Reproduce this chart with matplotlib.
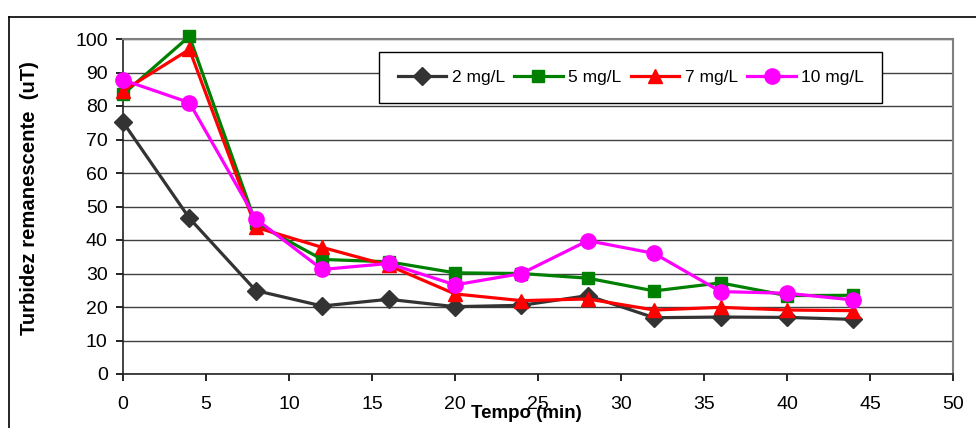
"""Turbidez remanescente vs tempo para diferentes dosagens."""

import matplotlib
matplotlib.use("Agg")
import matplotlib.pyplot as plt
from matplotlib.lines import Line2D

plt.rcParams["font.family"] = ["Liberation Sans", "DejaVu Sans"]

tempo = [0, 4, 8, 12, 16, 20, 24, 28, 32, 36, 40, 44]

dose_2 = [75.2, 46.5, 24.9, 20.3, 22.3, 20.1, 20.5, 23.4, 16.8, 17.0, 16.9, 16.3]
dose_5 = [83.5, 100.8, 45.0, 34.2, 33.5, 30.2, 30.0, 28.6, 24.8, 27.2, 23.4, 23.5]
dose_7 = [84.5, 96.9, 43.8, 37.8, 32.4, 23.9, 21.9, 22.4, 19.1, 19.9, 19.1, 18.9]
dose_10 = [87.8, 81.0, 46.3, 31.2, 33.0, 26.6, 30.0, 39.8, 36.0, 24.6, 24.1, 22.1]

series = [
    ("2 mg/L", dose_2, "#333333", "D", 9),
    ("5 mg/L", dose_5, "#008000", "s", 9),
    ("7 mg/L", dose_7, "#ff0000", "^", 10),
    ("10 mg/L", dose_10, "#ff00ff", "o", 11),
]


def main():
    fig = plt.figure(figsize=(9.76, 4.28), dpi=100)
    ax = fig.add_axes([123 / 976, 1 - 374 / 428, (953 - 123) / 976, (374 - 39) / 428])

    # moldura externa (estilo Excel)
    fig.add_artist(Line2D([9 / 976, 9 / 976], [0, 1 - 17 / 428], color="black", lw=1.2))
    fig.add_artist(Line2D([9 / 976, 1], [1 - 17 / 428, 1 - 17 / 428], color="black", lw=1.2))

    for label, values, color, marker, ms in series:
        ax.plot(tempo, values, color=color, marker=marker, markersize=ms, lw=2.3,
                label=label, clip_on=False, zorder=3)

    ax.set_xlim(0, 50)
    ax.set_ylim(0, 100)
    ax.set_xticks(range(0, 51, 5))
    ax.set_yticks(range(0, 101, 10))
    ax.yaxis.grid(True, color="#404040", lw=1)
    ax.set_axisbelow(True)
    ax.tick_params(axis="both", labelsize=14, direction="out", length=5, width=1.2, pad=6)
    ax.tick_params(axis="x", pad=11)

    ax.spines["left"].set_linewidth(1.2)
    ax.spines["bottom"].set_linewidth(1.2)
    ax.spines["left"].set_color("#222222")
    ax.spines["bottom"].set_color("#222222")
    ax.spines["top"].set_color("#808080")
    ax.spines["right"].set_color("#808080")
    ax.spines["top"].set_linewidth(1.5)
    ax.spines["right"].set_linewidth(1.5)

    fig.text(526 / 976, 1 - 413 / 428, "Tempo (min)", ha="center", va="center",
             fontsize=13.5, fontweight="bold")
    fig.text(30 / 976, 1 - 198 / 428, "Turbidez remanescente  (uT)", ha="center", va="center",
             rotation=90, fontsize=14.6, fontweight="bold")

    leg = ax.legend(loc="upper left", bbox_to_anchor=(0.309, 0.962), ncol=4, fontsize=12.5,
                    frameon=True, fancybox=False, edgecolor="black", framealpha=1,
                    handlelength=2.8, handletextpad=0.3, columnspacing=0.55,
                    borderpad=1.05, borderaxespad=0)
    leg.get_frame().set_linewidth(1)

    fig.savefig("out.png", dpi=100)


if __name__ == "__main__":
    main()
